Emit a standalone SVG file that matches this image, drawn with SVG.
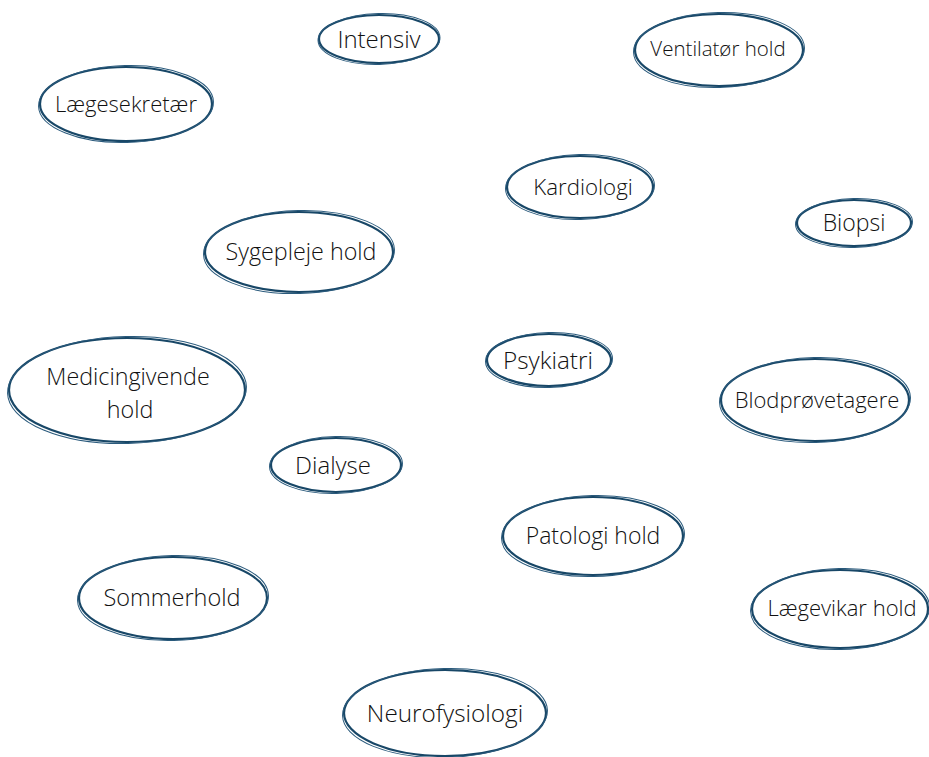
<svg xmlns="http://www.w3.org/2000/svg" width="929" height="757" viewBox="0 0 929 757">
<style>
.a{fill:#fff;stroke:#184767;stroke-width:2.2}
.b{fill:none;stroke:#2a5a7c;stroke-width:1}
text{font-family:"Open Sans","Liberation Sans",sans-serif;font-weight:300;fill:#111;text-anchor:middle;dominant-baseline:central}
</style>
<rect width="929" height="757" fill="#fff"/>
<g id="connectors"></g>
<g id="intensiv"><ellipse class="a" cx="379" cy="39" rx="60" ry="24"/><ellipse class="b" cx="379" cy="39" rx="61" ry="25.5" transform="rotate(-1.5 379 39)"/><text x="379" y="38" font-size="24">Intensiv</text></g>
<g id="ventilator"><ellipse class="a" cx="719" cy="50" rx="84" ry="36"/><ellipse class="b" cx="719" cy="50" rx="85.5" ry="37.5" transform="rotate(-1.5 719 50)"/><text x="718" y="48" font-size="20.5">Ventilatør hold</text></g>
<g id="laegesekretaer"><ellipse class="a" cx="126" cy="104" rx="86" ry="37"/><ellipse class="b" cx="126" cy="104" rx="87.5" ry="38.5" transform="rotate(-1.5 126 104)"/><text x="126" y="103" font-size="22">Lægesekretær</text></g>
<g id="kardiologi"><ellipse class="a" cx="580" cy="187" rx="73" ry="31"/><ellipse class="b" cx="580" cy="187" rx="74.5" ry="32.5" transform="rotate(-1.5 580 187)"/><text x="583" y="186" font-size="22.3">Kardiologi</text></g>
<g id="biopsi"><ellipse class="a" cx="854" cy="223" rx="57" ry="23"/><ellipse class="b" cx="854" cy="223" rx="58.5" ry="24.5" transform="rotate(-1.5 854 223)"/><text x="854" y="222" font-size="23">Biopsi</text></g>
<g id="sygepleje"><ellipse class="a" cx="299" cy="252" rx="94" ry="40"/><ellipse class="b" cx="299" cy="252" rx="95.5" ry="41.5" transform="rotate(-1.5 299 252)"/><text x="301" y="251" font-size="23.3">Sygepleje hold</text></g>
<g id="medicingivende"><ellipse class="a" cx="127" cy="390" rx="118" ry="52"/><ellipse class="b" cx="127" cy="390" rx="119.5" ry="53.5" transform="rotate(-1.5 127 390)"/><text x="128" y="376" font-size="23.3">Medicingivende</text><text x="130" y="409" font-size="23.3">hold</text></g>
<g id="psykiatri"><ellipse class="a" cx="549" cy="360" rx="62" ry="26"/><ellipse class="b" cx="549" cy="360" rx="63.5" ry="27.5" transform="rotate(-1.5 549 360)"/><text x="548" y="359" font-size="24.3">Psykiatri</text></g>
<g id="blodproevetagere"><ellipse class="a" cx="815" cy="400" rx="94" ry="41"/><ellipse class="b" cx="815" cy="400" rx="95.5" ry="42.5" transform="rotate(-1.5 815 400)"/><text x="817" y="399" font-size="22">Blodprøvetagere</text></g>
<g id="dialyse"><ellipse class="a" cx="336" cy="465" rx="65" ry="27"/><ellipse class="b" cx="336" cy="465" rx="66.5" ry="28.5" transform="rotate(-1.5 336 465)"/><text x="333" y="464" font-size="24">Dialyse</text></g>
<g id="patologi"><ellipse class="a" cx="593" cy="536" rx="90" ry="39"/><ellipse class="b" cx="593" cy="536" rx="91.5" ry="40.5" transform="rotate(-1.5 593 536)"/><text x="593" y="535" font-size="23">Patologi hold</text></g>
<g id="sommerhold"><ellipse class="a" cx="173" cy="598" rx="94" ry="41"/><ellipse class="b" cx="173" cy="598" rx="95.5" ry="42.5" transform="rotate(-1.5 173 598)"/><text x="172" y="597" font-size="23.5">Sommerhold</text></g>
<g id="laegevikar"><ellipse class="a" cx="840" cy="609" rx="88" ry="39"/><ellipse class="b" cx="840" cy="609" rx="89.5" ry="40.5" transform="rotate(-1.5 840 609)"/><text x="842" y="607" font-size="22">Lægevikar hold</text></g>
<g id="neurofysiologi"><ellipse class="a" cx="445" cy="713" rx="101" ry="43"/><ellipse class="b" cx="445" cy="713" rx="102.5" ry="44.5" transform="rotate(-1.5 445 713)"/><text x="445" y="712" font-size="24.3">Neurofysiologi</text></g>
</svg>
